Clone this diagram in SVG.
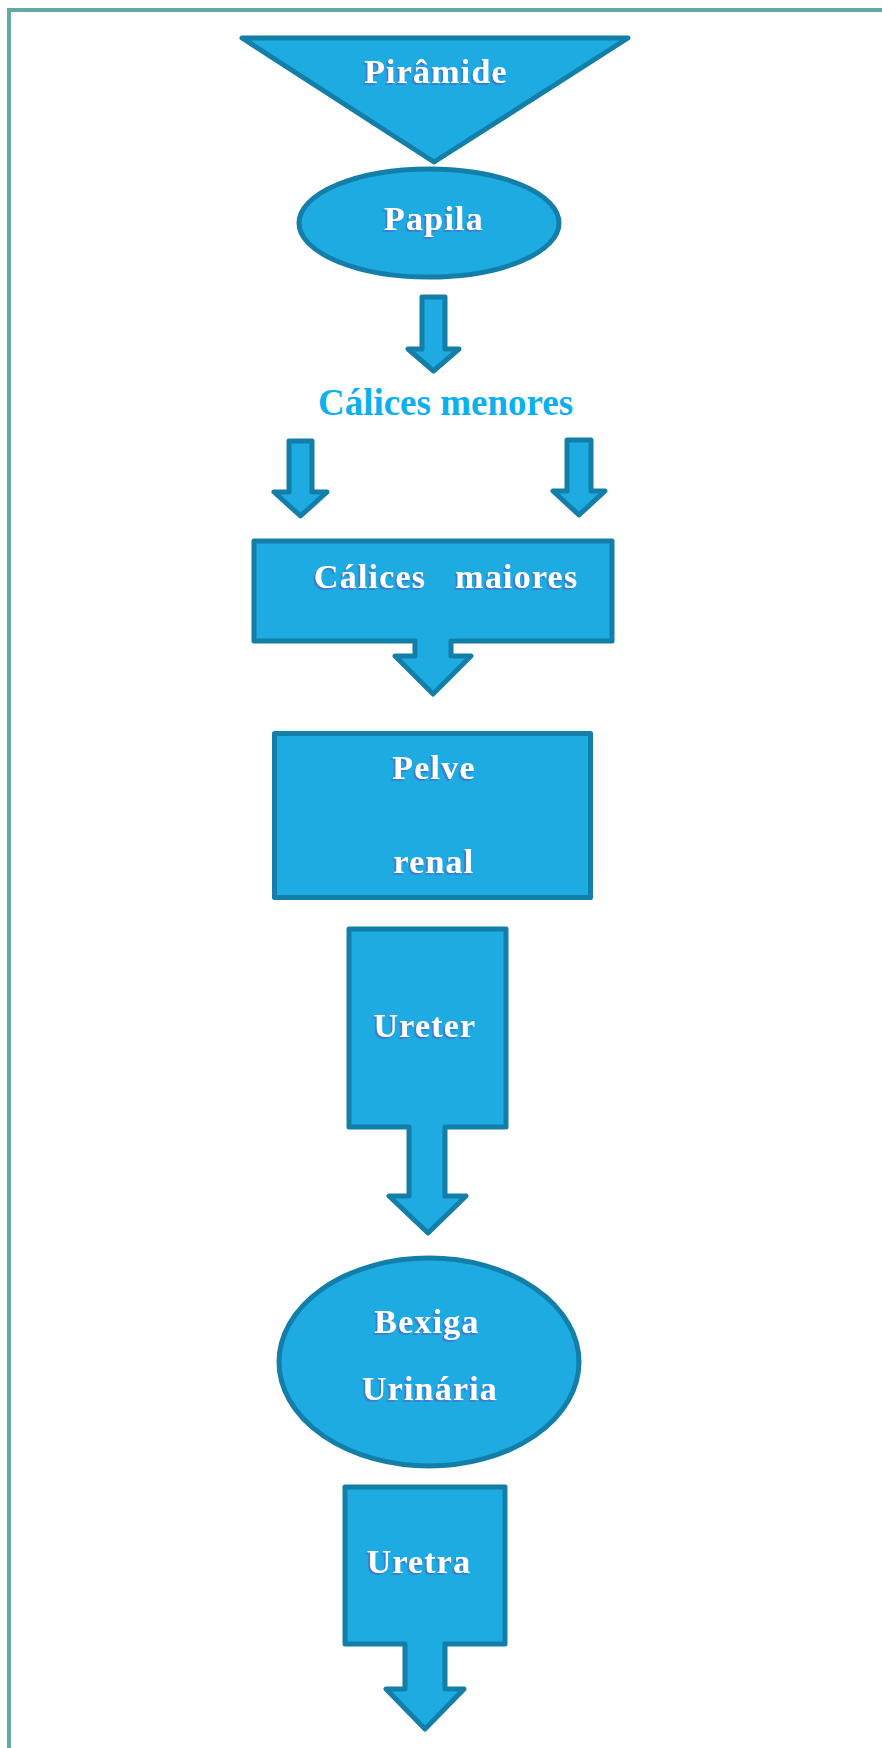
<svg xmlns="http://www.w3.org/2000/svg" width="882" height="1748" viewBox="0 0 882 1748">
<defs>
<style>
.shape{fill:#1eabe2;stroke:#137fa9;stroke-width:5;stroke-linejoin:round}
.lbl{font-family:"Liberation Serif","Times New Roman",serif;font-weight:bold;font-size:34px;fill:#ffffff;letter-spacing:1.2px;text-anchor:middle;filter:url(#emboss)}
.plain{font-family:"Liberation Serif","Times New Roman",serif;font-weight:bold;font-size:37px;fill:#0db0ef;text-anchor:middle}
</style>
<filter id="emboss" x="-10%" y="-20%" width="120%" height="150%">
<feFlood flood-color="#3a7fd0" result="c"/>
<feComposite in="c" in2="SourceAlpha" operator="in" result="s"/>
<feOffset in="s" dx="-1.8" dy="1.8" result="o"/>
<feMerge><feMergeNode in="o"/><feMergeNode in="SourceGraphic"/></feMerge>
</filter>
</defs>
<rect x="0" y="0" width="882" height="1748" fill="#ffffff"/>
<rect id="frame" x="9" y="10" width="900" height="1760" fill="none" stroke="#64a9a1" stroke-width="4"/>

<g id="piramide">
<polygon class="shape" points="242,38 628,38 434,162"/>
<text class="lbl" x="436" y="83">Pirâmide</text>
</g>
<g id="papila">
<ellipse class="shape" cx="429" cy="223" rx="130" ry="54"/>
<text class="lbl" x="434" y="230">Papila</text>
</g>
<g id="calices-menores">
<text class="plain" x="445.5" y="415">Cálices menores</text>
</g>
<g id="calices-maiores">
<path class="shape" d="M254,541 H612 V641 H451 V656 H471 L433,694 L395,656 H415 V641 H254 Z"/>
<text class="lbl" x="314" y="588" style="text-anchor:start" xml:space="preserve">Cálices   maiores</text>
</g>
<g id="pelve-renal">
<rect class="shape" x="274.5" y="733.5" width="316" height="164"/>
<text class="lbl" x="434" y="779">Pelve</text>
<text class="lbl" x="434" y="873">renal</text>
</g>
<g id="ureter">
<path class="shape" d="M349,929 H506 V1127 H445 V1196 H466 L428,1233 L389,1196 H409 V1127 H349 Z"/>
<text class="lbl" x="425" y="1037">Ureter</text>
</g>
<g id="bexiga">
<ellipse class="shape" cx="429" cy="1362" rx="150" ry="104"/>
<text class="lbl" x="427" y="1333">Bexiga</text>
<text class="lbl" x="430" y="1400">Urinária</text>
</g>
<g id="uretra">
<path class="shape" d="M345,1487 H505 V1644 H445 V1689 H464 L425,1729 L386,1689 H405 V1644 H345 Z"/>
<text class="lbl" x="419" y="1573">Uretra</text>
</g>

<g id="connectors">
<path class="shape" d="M422,297 H445 V349 H459 L433.5,371 L408,349 H422 Z"/>
<path class="shape" d="M289,441 H312 V492 H327 L300.5,516 L274,492 H289 Z"/>
<path class="shape" d="M567,440 H591 V491 H605 L579,515 L553,491 H567 Z"/>
</g>
</svg>
